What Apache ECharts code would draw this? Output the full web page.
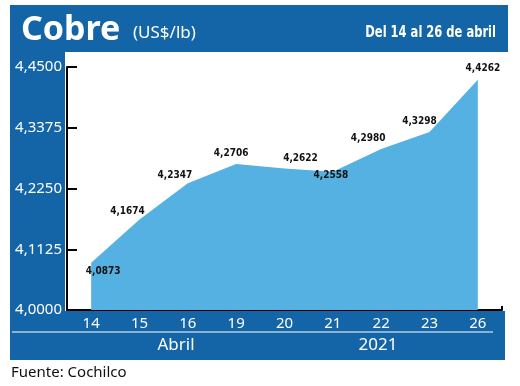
<!DOCTYPE html>
<html><head><meta charset="utf-8">
<script src="https://cdn.jsdelivr.net/npm/echarts@6/dist/echarts.min.js"></script>
<style>html,body{margin:0;padding:0;background:#fff}#c{width:520px;height:386px}</style>
</head><body><div id="c"></div>
<script>
var categories = ['14','15','16','19','20','21','22','23','26'];
var values = [4.0873, 4.1674, 4.2347, 4.2706, 4.2622, 4.2558, 4.2980, 4.3298, 4.4262];
var yTicks = [4.0000, 4.1125, 4.2250, 4.3375, 4.4500];
var titleMain = 'Cobre';
var titleUnit = '(US$/lb)';
var titleRange = 'Del 14 al 26 de abril';
var monthLabel = 'Abril';
var yearLabel = '2021';
var sourceLabel = 'Fuente: Cochilco';

var BLUE = '#1365a8';
var AREA = '#55b1e1';
var narrow = "'DejaVu Sans Condensed','Noto Sans',sans-serif";
var labelOffsets = [[12,-1],[-12,2],[-13,2],[-5,0],[16,0],[-2,-6],[-13,-1],[-10,-1],[5,-1]];
var labelPos = ['bottom','top','top','top','top','bottom','top','top','top'];

var chart = echarts.init(document.getElementById('c'));
var fmt = function(v){ return v.toFixed(4).replace('.', ','); };
chart.setOption({
  animation: false,
  backgroundColor: '#fff',
  graphic: [
    {type:'rect', z:-10, shape:{x:10,y:5,width:55,height:355}, style:{fill:BLUE}},
    {type:'rect', z:-10, shape:{x:10,y:5,width:498,height:47}, style:{fill:BLUE}},
    {type:'rect', z:-10, shape:{x:10,y:311,width:495,height:49}, style:{fill:BLUE}},
    {type:'line', z:5, shape:{x1:12,y1:332,x2:493,y2:332}, style:{stroke:'#fff',lineWidth:1.2}},
    {type:'text', x:21, y:30, style:{text:titleMain, fill:'#fff', font:"bold 34px 'Noto Sans',sans-serif", verticalAlign:'middle'}},
    {type:'text', x:133, y:33, style:{text:titleUnit, fill:'#fff', font:"17px 'Noto Sans',sans-serif", verticalAlign:'middle'}},
    {type:'text', x:496, y:33, scaleX:0.8, style:{text:titleRange, fill:'#fff', font:"bold 16px " + narrow, align:'right', verticalAlign:'middle'}},
    {type:'text', x:176, y:345, style:{text:monthLabel, fill:'#fff', font:"17px 'Noto Sans',sans-serif", align:'center', verticalAlign:'middle'}},
    {type:'text', x:378, y:345, style:{text:yearLabel, fill:'#fff', font:"17px 'Noto Sans',sans-serif", align:'center', verticalAlign:'middle'}},
    {type:'text', x:11, y:373, style:{text:sourceLabel, fill:'#111', font:"15px 'Noto Sans',sans-serif", verticalAlign:'middle'}},
    {type:'line', z:10, shape:{x1:502,y1:310,x2:502,y2:306}, style:{stroke:'#000',lineWidth:2}}
  ],
  grid: {left:67, right:18, top:67, bottom:76},
  xAxis: {
    type:'category', data:categories, boundaryGap:true,
    axisLine:{lineStyle:{color:'#000', width:2}},
    axisTick:{show:false},
    axisLabel:{color:'#fff', fontSize:15, margin:6, fontFamily:"'Noto Sans',sans-serif"}
  },
  yAxis: {
    type:'value', min:yTicks[0], max:yTicks[yTicks.length-1], interval:yTicks[1]-yTicks[0],
    axisLine:{show:true, lineStyle:{color:'#000', width:2}},
    axisTick:{show:true, inside:true, length:10, lineStyle:{color:'#000', width:2}},
    splitLine:{show:false},
    axisLabel:{color:'#fff', fontSize:15, margin:5, fontFamily:"'Noto Sans',sans-serif", formatter:fmt}
  },
  series: [{
    type:'line', symbol:'circle', symbolSize:0, showSymbol:true, z:2,
    itemStyle:{color:AREA},
    data: values.map(function(v,i){
      return {value:v, label:{position:labelPos[i], offset:labelOffsets[i]}};
    }),
    lineStyle:{width:0, color:AREA},
    areaStyle:{color:AREA, opacity:1},
    label:{show:true, opacity:1, color:'#111', fontSize:10, fontWeight:'bold', fontFamily:narrow, formatter:function(p){return fmt(p.value);}}
  }]
});
</script></body></html>
